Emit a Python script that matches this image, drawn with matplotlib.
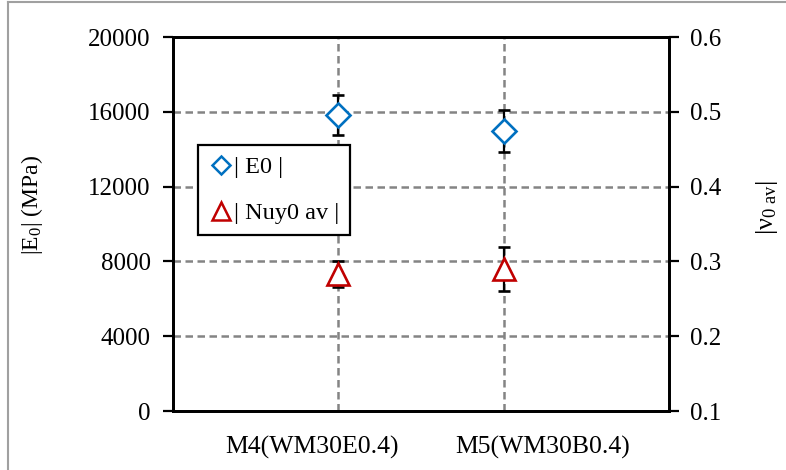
import matplotlib
matplotlib.use("Agg")
import matplotlib.pyplot as plt
from matplotlib.lines import Line2D

categories = ["M4(WM30E0.4)", "M5(WM30B0.4)"]
e0_values = [15850, 14980]
e0_errors = [1070, 1110]
nu_values = [0.283, 0.290]
nu_errors = [0.0176, 0.0294]
left_ticks = [0, 4000, 8000, 12000, 16000, 20000]
right_ticks = [0.1, 0.2, 0.3, 0.4, 0.5, 0.6]

plt.rcParams['font.family'] = ['Liberation Serif', 'DejaVu Serif']
plt.rcParams['mathtext.fontset'] = 'custom'
plt.rcParams['mathtext.rm'] = 'Liberation Serif'
plt.rcParams['mathtext.it'] = 'Liberation Serif:italic'

fig = plt.figure(figsize=(7.86, 4.70), dpi=100)
W, H = 786, 470
ax = fig.add_axes([173 / W, 1 - 411 / H, (669 - 173) / W, (411 - 37) / H])
ax2 = ax.twinx()

x = list(range(len(categories)))
ax.set_xlim(-1, 2)
ax.set_ylim(0, 20000)
ax2.set_ylim(0.1, 0.6)

ax.set_yticks(left_ticks)
ax.set_yticklabels([str(t) for t in left_ticks])
ax2.set_yticks(right_ticks)
ax2.set_yticklabels([f"{t:.1f}" for t in right_ticks])

# category positions carry the vertical gridlines; labels sit at the reference's label offsets
ax.set_xticks(x, minor=True)
label_offsets = [-0.16, 0.235]  # layout: label centre relative to category
ax.set_xticks([xi + off for xi, off in zip(x, label_offsets)])
ax.set_xticklabels(categories)

grid_kw = dict(color='#848484', linestyle=(0, (3, 1.8)), linewidth=1.8)
ax.grid(True, axis='y', which='major', **grid_kw)
ax.grid(True, axis='x', which='minor', **grid_kw)
ax.grid(False, axis='x', which='major')
ax.set_axisbelow(True)

ax.errorbar(x, e0_values, yerr=e0_errors, fmt='D', markersize=12.5,
            markerfacecolor='white', markeredgecolor='#0070C0', markeredgewidth=1.9,
            ecolor='black', elinewidth=1.6, capsize=4.3, capthick=1.6, zorder=3)
ax2.errorbar(x, nu_values, yerr=nu_errors, fmt='^', markersize=16.5,
             markerfacecolor='white', markeredgecolor='#C00000', markeredgewidth=1.9,
             ecolor='black', elinewidth=1.6, capsize=4.3, capthick=1.6, zorder=3)

for a in (ax, ax2):
    for s in a.spines.values():
        s.set_linewidth(2)
        s.set_color('black')

ax.tick_params(axis='y', direction='out', length=7, width=1.6, labelsize=18, pad=9)
ax2.tick_params(axis='y', direction='out', length=7, width=1.6, labelsize=18, pad=8)
ax.tick_params(axis='x', which='both', length=0, labelsize=18.5, pad=18)

ax.set_ylabel(r'$|\mathrm{E}_0|$ (MPa)', fontsize=17)
ax.yaxis.set_label_coords(-0.258, 0.551)
ax2.set_ylabel(r'$|\mathrm{\nu}_{\mathrm{0\ av}}|$', fontsize=19)
ax2.yaxis.set_label_coords(1.172, 0.544)

handles = [
    Line2D([], [], linestyle='none', marker='D', markersize=9,
           markerfacecolor='white', markeredgecolor='#0070C0', markeredgewidth=1.8),
    Line2D([], [], linestyle='none', marker='^', markersize=13,
           markerfacecolor='white', markeredgecolor='#C00000', markeredgewidth=1.8),
]
leg = ax2.legend(handles, ['| E0 |', '| Nuy0 av |'],
                 loc='upper left', bbox_to_anchor=(0.05, 0.711),
                 fontsize=17.5, frameon=True, fancybox=False, framealpha=1,
                 edgecolor='black', handlelength=1.0, handletextpad=0.05,
                 labelspacing=1.0, borderpad=0.45, borderaxespad=0)
leg.get_frame().set_linewidth(1.6)
leg.set_zorder(10)

fig.add_artist(Line2D([8 / W, 8 / W], [0, 1 - 2 / H], transform=fig.transFigure,
                      color='#a0a0a0', linewidth=1.5))
fig.add_artist(Line2D([8 / W, 1], [1 - 2 / H, 1 - 2 / H], transform=fig.transFigure,
                      color='#a0a0a0', linewidth=1.5))

fig.savefig('out.png', dpi=100)
